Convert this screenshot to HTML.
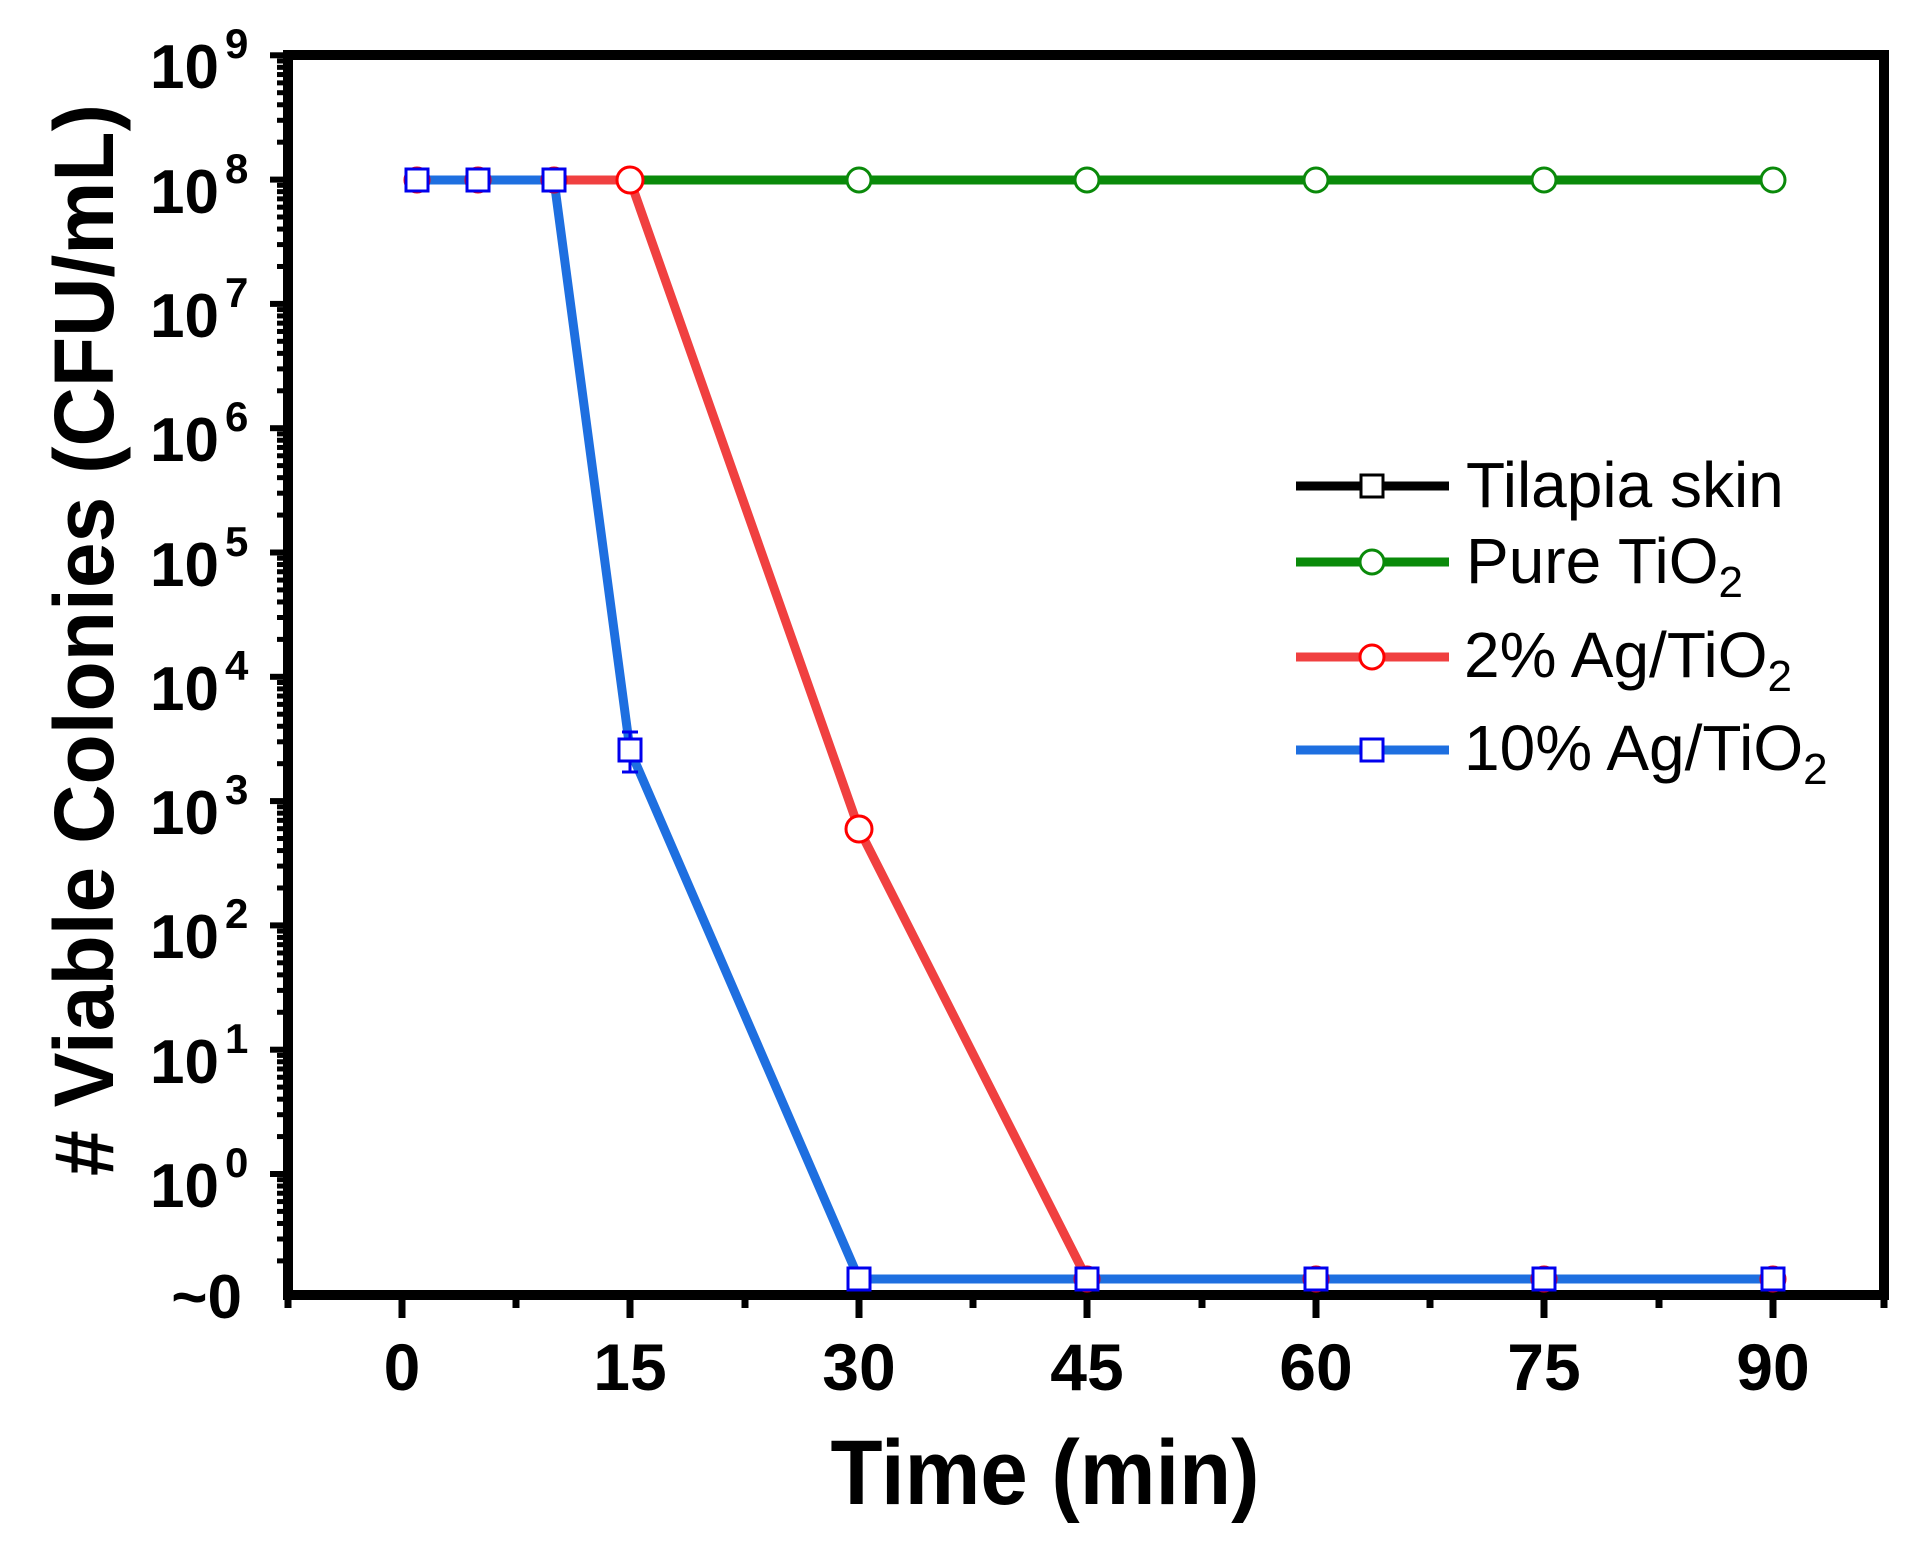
<!DOCTYPE html>
<html><head><meta charset="utf-8"><style>html,body{margin:0;padding:0;background:#fff}svg{display:block}</style></head><body>
<svg width="1911" height="1541" viewBox="0 0 1911 1541" xmlns="http://www.w3.org/2000/svg" font-family="Liberation Sans, Arial, sans-serif">
<rect width="1911" height="1541" fill="#fff"/>
<g stroke="#000" stroke-width="7">
<line x1="402" y1="1295" x2="402" y2="1318"/><line x1="630" y1="1295" x2="630" y2="1318"/><line x1="859" y1="1295" x2="859" y2="1318"/><line x1="1087" y1="1295" x2="1087" y2="1318"/><line x1="1316" y1="1295" x2="1316" y2="1318"/><line x1="1544" y1="1295" x2="1544" y2="1318"/><line x1="1773" y1="1295" x2="1773" y2="1318"/>
<line x1="288" y1="1295" x2="288" y2="1308"/><line x1="516" y1="1295" x2="516" y2="1308"/><line x1="745" y1="1295" x2="745" y2="1308"/><line x1="973" y1="1295" x2="973" y2="1308"/><line x1="1202" y1="1295" x2="1202" y2="1308"/><line x1="1430" y1="1295" x2="1430" y2="1308"/><line x1="1659" y1="1295" x2="1659" y2="1308"/><line x1="1884" y1="1295" x2="1884" y2="1308"/>
</g>
<g stroke="#000" stroke-width="5" id="yticks"></g>
<rect x="288" y="55" width="1596" height="1240" fill="none" stroke="#000" stroke-width="10"/>
<polyline points="417,180 478,180 554,180 630,180 859,180 1087,180 1316,180 1544,180 1773,180" fill="none" stroke="#000" stroke-width="9"/>
<polyline points="417,180 478,180 554,180 630,180 859,180 1087,180 1316,180 1544,180 1773,180" fill="none" stroke="#0a8a0a" stroke-width="9"/>
<polyline points="417,180 478,180 554,180 630,180 859,829 1087,1279 1316,1279 1544,1279 1773,1279" fill="none" stroke="#f04040" stroke-width="9"/>
<polyline points="417,180 478,180 554,180 630,750 859,1279 1087,1279 1316,1279 1544,1279 1773,1279" fill="none" stroke="#1e6fe0" stroke-width="9"/>
<line x1="630" y1="732" x2="630" y2="772" stroke="#0000ee" stroke-width="3"/><line x1="622" y1="732" x2="638" y2="732" stroke="#0000ee" stroke-width="3"/><line x1="622" y1="772" x2="638" y2="772" stroke="#0000ee" stroke-width="3"/>
<g fill="#fff" stroke="#0a8a0a" stroke-width="3">
<circle cx="859" cy="180" r="12"/><circle cx="1087" cy="180" r="12"/><circle cx="1316" cy="180" r="12"/><circle cx="1544" cy="180" r="12"/><circle cx="1773" cy="180" r="12"/>
</g>
<g fill="#fff" stroke="#f00" stroke-width="3">
<circle cx="417" cy="180" r="12"/><circle cx="478" cy="180" r="12"/><circle cx="554" cy="180" r="12"/><circle cx="630" cy="180" r="13"/><circle cx="859" cy="829" r="13"/><circle cx="1087" cy="1279" r="12"/><circle cx="1316" cy="1279" r="12"/><circle cx="1544" cy="1279" r="12"/><circle cx="1773" cy="1279" r="12"/>
</g>
<g fill="#fff" stroke="#0000ee" stroke-width="3">
<rect x="406" y="169" width="22" height="22"/><rect x="467" y="169" width="22" height="22"/><rect x="543" y="169" width="22" height="22"/><rect x="619" y="739" width="22" height="22"/><rect x="848" y="1268" width="22" height="22"/><rect x="1076" y="1268" width="22" height="22"/><rect x="1305" y="1268" width="22" height="22"/><rect x="1533" y="1268" width="22" height="22"/><rect x="1762" y="1268" width="22" height="22"/>
</g>
<line x1="1296" y1="486" x2="1449" y2="486" stroke="#000" stroke-width="9"/><rect x="1361" y="475" width="22" height="22" fill="#fff" stroke="#000" stroke-width="3"/>
<line x1="1296" y1="562" x2="1449" y2="562" stroke="#0a8a0a" stroke-width="9"/><circle cx="1372" cy="562" r="12" fill="#fff" stroke="#0a8a0a" stroke-width="3"/>
<line x1="1296" y1="657" x2="1449" y2="657" stroke="#f04040" stroke-width="9"/><circle cx="1372" cy="657" r="12" fill="#fff" stroke="#f00" stroke-width="3"/>
<line x1="1296" y1="750" x2="1449" y2="750" stroke="#1e6fe0" stroke-width="9"/><rect x="1361" y="739" width="22" height="22" fill="#fff" stroke="#0000ee" stroke-width="3"/>
<g font-size="64" fill="#000">
<text x="1466" y="507">Tilapia skin</text>
<text x="1466" y="583">Pure TiO<tspan font-size="44" dy="14">2</tspan></text>
<text x="1464" y="677">2% Ag/TiO<tspan font-size="44" dy="14">2</tspan></text>
<text x="1464" y="770">10% Ag/TiO<tspan font-size="44" dy="14">2</tspan></text>
</g>
<g font-size="66" font-weight="bold" text-anchor="middle" fill="#000">
<text x="402" y="1390">0</text><text x="630" y="1390">15</text><text x="859" y="1390">30</text><text x="1087" y="1390">45</text><text x="1316" y="1390">60</text><text x="1544" y="1390">75</text><text x="1773" y="1390">90</text>
</g>
<g font-weight="bold" fill="#000">
<text x="150" y="88" font-size="62">10</text><text x="225" y="58" font-size="42">9</text>
<text x="150" y="213" font-size="62">10</text><text x="225" y="183" font-size="42">8</text>
<text x="150" y="337" font-size="62">10</text><text x="225" y="307" font-size="42">7</text>
<text x="150" y="461" font-size="62">10</text><text x="225" y="431" font-size="42">6</text>
<text x="150" y="586" font-size="62">10</text><text x="225" y="556" font-size="42">5</text>
<text x="150" y="710" font-size="62">10</text><text x="225" y="680" font-size="42">4</text>
<text x="150" y="834" font-size="62">10</text><text x="225" y="804" font-size="42">3</text>
<text x="150" y="958" font-size="62">10</text><text x="225" y="928" font-size="42">2</text>
<text x="150" y="1083" font-size="62">10</text><text x="225" y="1053" font-size="42">1</text>
<text x="150" y="1207" font-size="62">10</text><text x="225" y="1177" font-size="42">0</text>
<text x="242" y="1318" font-size="62" text-anchor="end">~0</text>
</g>
<text x="1045" y="1504" font-size="92" font-weight="bold" text-anchor="middle" textLength="429" lengthAdjust="spacingAndGlyphs">Time (min)</text>
<text transform="translate(113,640) rotate(-90)" font-size="84" font-weight="bold" text-anchor="middle" textLength="1072" lengthAdjust="spacingAndGlyphs"># Viable Colonies (CFU/mL)</text>
<script>
var g=document.getElementById('yticks'),ns='http://www.w3.org/2000/svg';
function Y(d){return 1174-124.3*d;}
for(var d=-1;d<=9;d++){
 var y=Y(d);
 if(d>=0){var l=document.createElementNS(ns,'line');l.setAttribute('x1',284);l.setAttribute('x2',270);l.setAttribute('y1',y);l.setAttribute('y2',y);l.setAttribute('stroke-width',6);g.appendChild(l);}
 if(d<9){for(var k=2;k<=9;k++){var yy=Y(d+Math.log10(k));if(yy>1290)continue;var m=document.createElementNS(ns,'line');m.setAttribute('x1',284);m.setAttribute('x2',277);m.setAttribute('y1',yy);m.setAttribute('y2',yy);m.setAttribute('stroke-width',5);g.appendChild(m);}}
}
</script>
</svg>
</body></html>
